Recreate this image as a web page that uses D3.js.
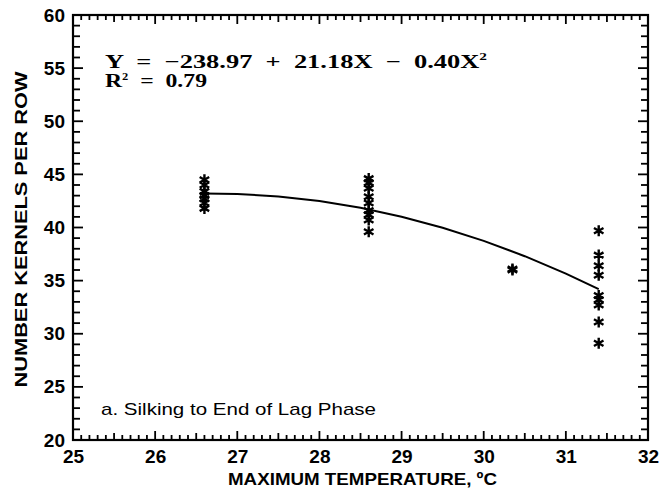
<!DOCTYPE html>
<html><head><meta charset="utf-8">
<script src="https://cdn.jsdelivr.net/npm/d3@7"></script>
<style>
html,body{margin:0;padding:0;background:#fff;}
svg{display:block;}
.pre{white-space:pre;}
</style></head>
<body>
<svg id="c" width="672" height="498"></svg>
<script>
// ---- data ----
const pointTemp = [26.6,26.6,26.6,26.6,26.6,26.6,26.6,
                   28.6,28.6,28.6,28.6,28.6,28.6,28.6,28.6,28.6,
                   30.35,30.35,
                   31.4,31.4,31.4,31.4,31.4,31.4,31.4,31.4,31.4];
const pointKernels = [44.5,44.0,43.4,43.0,42.7,42.3,41.8,
                      44.6,44.2,43.7,42.9,42.3,41.6,41.2,40.7,39.6,
                      36.0,36.1,
                      39.7,37.4,36.4,35.5,33.6,33.2,32.7,31.1,29.1];
const curveTemp = [26.6,27,27.5,28,28.5,29,29.5,30,30.5,31,31.4];
const curveKernels = [43.2,43.16,42.92,42.49,41.85,41.01,39.98,38.74,37.3,35.66,34.2];
const xTicks = [25,26,27,28,29,30,31,32];
const yTicks = [20,25,30,35,40,45,50,55,60];
const equationText = "Y  =  \u2212238.97  +  21.18X  \u2212  0.40X";
const r2Text = "R";
const panelLabel = "a. Silking to End of Lag Phase";
const xTitle = "MAXIMUM TEMPERATURE, \u00BAC";
const yTitle = "NUMBER KERNELS PER ROW";

// ---- layout ----
const L = 73, R = 648, T = 15, B = 440;
const svg = d3.select("#c");
const x = d3.scaleLinear().domain([25,32]).range([L,R]);
const y = d3.scaleLinear().domain([20,60]).range([B,T]);
const font = "'Liberation Sans', Arial, sans-serif";
const serif = "'Liberation Serif', 'DejaVu Serif', serif";

// frame
svg.append("rect").attr("x",L).attr("y",T).attr("width",R-L).attr("height",B-T)
  .attr("fill","none").attr("stroke","#000").attr("stroke-width",2.2);

// tick marks (inward on all four sides)
const xMinor = d3.range(250,321).map(d=>d/10);
const xLen = d => (Math.abs(d - Math.round(d)) < 1e-6) ? 9 : (Math.abs(d*2 - Math.round(d*2)) < 1e-6 ? 7 : 5);
const yMinor = d3.range(20,61,1);
const yLen = d => d % 5 === 0 ? 10 : 7;
const tg = svg.append("g").attr("fill","#000");
tg.selectAll("rect.b").data(xMinor).join("rect").attr("class","b")
  .attr("x",d=>x(d)-0.9).attr("width",1.8).attr("y",d=>B-xLen(d)).attr("height",d=>xLen(d));
tg.selectAll("rect.t").data(xMinor).join("rect").attr("class","t")
  .attr("x",d=>x(d)-0.9).attr("width",1.8).attr("y",T).attr("height",d=>xLen(d));
tg.selectAll("rect.l").data(yMinor).join("rect").attr("class","l")
  .attr("y",d=>y(d)-0.9).attr("height",1.8).attr("x",L).attr("width",d=>yLen(d));
tg.selectAll("rect.r").data(yMinor).join("rect").attr("class","r")
  .attr("y",d=>y(d)-0.9).attr("height",1.8).attr("x",d=>R-yLen(d)).attr("width",d=>yLen(d));

// tick labels via axes
function styleAxis(g){
  g.select(".domain").remove();
  g.selectAll("line").remove();
  g.selectAll("text").attr("font-family",font).attr("font-weight","bold")
   .attr("font-size",19).attr("fill","#000");
}
svg.append("g").attr("transform",`translate(0,${B})`)
  .call(d3.axisBottom(x).tickValues(xTicks).tickSize(0).tickPadding(10).tickFormat(d3.format("d"))).call(styleAxis);
svg.append("g").attr("transform",`translate(${L},0)`)
  .call(d3.axisLeft(y).tickValues(yTicks).tickSize(0).tickPadding(8).tickFormat(d3.format("d"))).call(styleAxis);

// curve
const line = d3.line().x((d,i)=>x(curveTemp[i])).y(d=>y(d));
svg.append("path").datum(curveKernels).attr("d",line)
  .attr("fill","none").attr("stroke","#000").attr("stroke-width",2);

// points
const sym = d3.symbol().type(d3.symbolAsterisk).size(85);
svg.append("g").selectAll("path").data(pointKernels).join("path")
  .attr("transform",(d,i)=>`translate(${x(pointTemp[i])},${y(d)})`)
  .attr("d",sym).attr("fill","none").attr("stroke","#000").attr("stroke-width",2.4);

// equation
const eq = svg.append("text").attr("class","pre").attr("x",105).attr("y",68)
  .attr("font-family",serif).attr("font-weight","bold")
  .attr("font-size",19).attr("fill","#000")
  .attr("textLength",382).attr("lengthAdjust","spacingAndGlyphs");
eq.append("tspan").text(equationText);
eq.append("tspan").attr("dy",-8).attr("font-size",11).text("2");
const r2 = svg.append("text").attr("class","pre").attr("x",105).attr("y",87)
  .attr("font-family",serif).attr("font-weight","bold")
  .attr("font-size",19).attr("fill","#000")
  .attr("textLength",102).attr("lengthAdjust","spacingAndGlyphs");
r2.append("tspan").text(r2Text);
r2.append("tspan").attr("dy",-7).attr("font-size",10).text("2");
r2.append("tspan").attr("dy",7).text("  =  0.79");

// panel label
svg.append("text").attr("x",101).attr("y",415).attr("font-family",font)
  .attr("font-size",17).attr("fill","#000").attr("textLength",275).attr("lengthAdjust","spacingAndGlyphs")
  .text(panelLabel);

// axis titles
svg.append("text").attr("x",(228+497)/2).attr("y",485).attr("text-anchor","middle")
  .attr("font-family",font).attr("font-weight","bold").attr("font-size",17)
  .attr("textLength",269).attr("lengthAdjust","spacingAndGlyphs").attr("fill","#000").text(xTitle);
svg.append("text").attr("transform",`translate(27,${(T+B)/2+2}) rotate(-90)`).attr("text-anchor","middle")
  .attr("font-family",font).attr("font-weight","bold").attr("font-size",17)
  .attr("textLength",316).attr("lengthAdjust","spacingAndGlyphs").attr("fill","#000").text(yTitle);
</script>
</body></html>
